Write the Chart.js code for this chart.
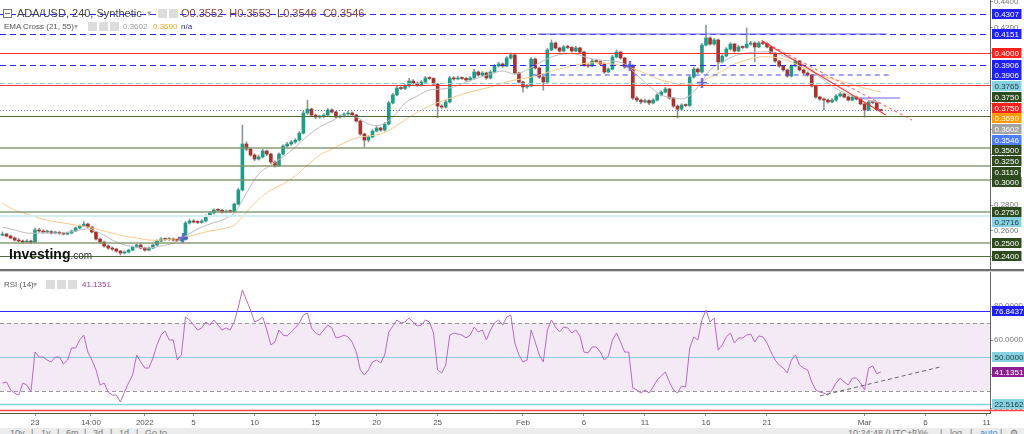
<!DOCTYPE html>
<html>
<head>
<meta charset="utf-8">
<script src="https://cdn.jsdelivr.net/npm/chart.js@4.4.1/dist/chart.umd.min.js"></script>
<style>
html, body { margin: 0; padding: 0; background: #fff; width: 1024px; height: 434px; overflow: hidden; font-family: "Liberation Sans", Arial, sans-serif; }
#wrap { position: relative; width: 1024px; height: 434px; }
canvas { position: absolute; left: 0; }
#price { top: 0; }
#rsi { top: 272px; }
.sep { position: absolute; left: 0; top: 269px; width: 1024px; height: 2px; background: #707070; }
.sep2 { position: absolute; left: 0; top: 271px; width: 1024px; height: 1px; background: #d4d4d4; }
.t { position: absolute; white-space: nowrap; }
.ico { position: absolute; width: 9px; height: 9px; background: #dcdcdc; }
.box { position: absolute; width: 7px; height: 7px; border: 1px solid #777; background: #fff; }
.box:after { content: ''; position: absolute; left: 1px; top: 3px; width: 5px; height: 1px; background: #777; }
#tools { position: absolute; left: 0; top: 428px; width: 1024px; height: 6px; background: #ececec; overflow: hidden; font-size: 9px; color: #777; }
#tools span { position: absolute; top: 1px; line-height: 9px; }
</style>
</head>
<body>
<div id="wrap">
  <canvas id="price" width="1024" height="269"></canvas>
  <div class="sep"></div><div class="sep2"></div>
  <canvas id="rsi" width="1024" height="162"></canvas>

  <div class="box" style="left:3px;top:9px"></div>
  <div class="t" style="left:17px;top:7px;font-size:11px;line-height:12px;color:#444">ADA/USD, 240, Synthetic</div>
  <div class="t" style="left:147px;top:8px;font-size:9px;line-height:10px;color:#aaa">▾</div>
  <div class="ico" style="left:158px;top:9px"></div><div class="ico" style="left:169px;top:9px"></div>
  <div class="t" id="ohlc" style="left:181px;top:7px;font-size:11px;line-height:12px;color:#8a3b3b"></div>

  <div class="t" style="left:4px;top:22px;font-size:8px;line-height:10px;color:#555">EMA Cross (21, 55)</div>
  <div class="t" style="left:74px;top:22px;font-size:8px;line-height:10px;color:#aaa">▾</div>
  <div class="ico" style="left:88px;top:22px"></div><div class="ico" style="left:99px;top:22px"></div><div class="ico" style="left:110px;top:22px"></div>
  <div class="t" id="emaFast" style="left:123px;top:22px;font-size:8px;line-height:10px;color:#999"></div>
  <div class="t" id="emaSlow" style="left:153px;top:22px;font-size:8px;line-height:10px;color:#f5a11c"></div>
  <div class="t" style="left:181px;top:22px;font-size:8px;line-height:10px;color:#2b2b8f">n/a</div>

  <div class="t" style="left:9px;top:247px;line-height:14px;color:#111"><span style="font-size:14px;font-weight:bold">Investing</span><span style="font-size:10px;color:#333">.com</span></div>

  <div class="t" style="left:4px;top:280px;font-size:8px;line-height:10px;color:#555">RSI (14)</div>
  <div class="t" style="left:33px;top:280px;font-size:8px;line-height:10px;color:#aaa">▾</div>
  <div class="ico" style="left:46px;top:280px"></div><div class="ico" style="left:57px;top:280px"></div><div class="ico" style="left:68px;top:280px"></div>
  <div class="t" id="rsiVal" style="left:82px;top:280px;font-size:8px;line-height:10px;color:#a03ca0"></div>

  <div id="tools">
    <span style="left:10px">10y</span><span style="left:31px">|</span><span style="left:41px">1y</span><span style="left:57px">|</span>
    <span style="left:66px">6m</span><span style="left:84px">|</span><span style="left:93px">3d</span><span style="left:110px">|</span>
    <span style="left:119px">1d</span><span style="left:136px">|</span><span style="left:145px">Go to...</span>
    <span style="left:848px">10:24:48 (UTC+2)</span><span style="left:912px">|</span><span style="left:920px">%</span><span style="left:940px">|</span>
    <span style="left:950px">log</span><span style="left:970px">|</span><span style="left:980px;color:#3d8bd0">auto</span><span style="left:1000px">|</span><span style="left:1010px">⚙</span>
  </div>
</div>

<script>
// ADA/USD 240 - candles resampled to 8h, days counted from 20 Dec 00:00
const firstDay = 1 / 3;
const candleStep = 1 / 3;
const emaStep = 1;
const firstOpen = 0.2565;

const closes = [
  0.2573, 0.2557, 0.2542, 0.2526, 0.2518, 0.2510, 0.2518, 0.2510, 0.2605, 0.2597, 0.2589, 0.2592,
  0.2581, 0.2584, 0.2579, 0.2573, 0.2581, 0.2597, 0.2620, 0.2636, 0.2652, 0.2628, 0.2589, 0.2534,
  0.2510, 0.2479, 0.2463, 0.2455, 0.2439, 0.2424, 0.2431, 0.2447, 0.2471, 0.2487, 0.2463, 0.2447,
  0.2463, 0.2487, 0.2518, 0.2534, 0.2530, 0.2536, 0.2526, 0.2522, 0.2530, 0.2660, 0.2676, 0.2668,
  0.2665, 0.2676, 0.2715, 0.2739, 0.2762, 0.2760, 0.2746, 0.2754, 0.2750, 0.2809, 0.2920, 0.3282,
  0.3242, 0.3195, 0.3164, 0.3180, 0.3227, 0.3203, 0.3140, 0.3109, 0.3203, 0.3266, 0.3282, 0.3298,
  0.3313, 0.3368, 0.3526, 0.3557, 0.3510, 0.3494, 0.3497, 0.3510, 0.3550, 0.3534, 0.3494, 0.3502,
  0.3518, 0.3526, 0.3510, 0.3463, 0.3361, 0.3313, 0.3337, 0.3384, 0.3408, 0.3392, 0.3439, 0.3605,
  0.3668, 0.3723, 0.3719, 0.3739, 0.3778, 0.3762, 0.3746, 0.3770, 0.3802, 0.3798, 0.3754, 0.3581,
  0.3573, 0.3613, 0.3802, 0.3794, 0.3802, 0.3798, 0.3786, 0.3802, 0.3849, 0.3825, 0.3841, 0.3802,
  0.3849, 0.3896, 0.3912, 0.3896, 0.3959, 0.3983, 0.3841, 0.3770, 0.3731, 0.3739, 0.3951, 0.3880,
  0.3809, 0.3770, 0.4022, 0.4077, 0.4038, 0.4014, 0.4046, 0.4042, 0.4014, 0.4038, 0.4006, 0.3904,
  0.3896, 0.3935, 0.3931, 0.3912, 0.3849, 0.3872, 0.3967, 0.4006, 0.3959, 0.3888, 0.3896, 0.3644,
  0.3628, 0.3613, 0.3624, 0.3605, 0.3628, 0.3668, 0.3691, 0.3715, 0.3644, 0.3581, 0.3557, 0.3589,
  0.3585, 0.3809, 0.3872, 0.3849, 0.4061, 0.4117, 0.4069, 0.4101, 0.3928, 0.3975, 0.4030, 0.4069,
  0.4014, 0.4046, 0.4042, 0.4069, 0.4077, 0.4046, 0.4077, 0.4073, 0.4046, 0.3998, 0.3935, 0.3896,
  0.3865, 0.3817, 0.3896, 0.3935, 0.3865, 0.3841, 0.3825, 0.3739, 0.3652, 0.3636, 0.3628, 0.3613,
  0.3628, 0.3660, 0.3676, 0.3652, 0.3628, 0.3652, 0.3636, 0.3597, 0.3550, 0.3613, 0.3609, 0.3552,
  0.3546
];

const highs = [
  0.2590, 0.2580, 0.2566, 0.2550, 0.2538, 0.2527, 0.2530, 0.2525, 0.2620, 0.2618, 0.2606, 0.2603,
  0.2600, 0.2596, 0.2594, 0.2588, 0.2590, 0.2605, 0.2630, 0.2645, 0.2672, 0.2660, 0.2635, 0.2595,
  0.2542, 0.2518, 0.2488, 0.2472, 0.2462, 0.2445, 0.2440, 0.2455, 0.2480, 0.2498, 0.2494, 0.2470,
  0.2472, 0.2495, 0.2528, 0.2545, 0.2544, 0.2546, 0.2542, 0.2534, 0.2538, 0.2672, 0.2690, 0.2688,
  0.2678, 0.2686, 0.2725, 0.2750, 0.2772, 0.2774, 0.2768, 0.2764, 0.2762, 0.2818, 0.2935, 0.3432,
  0.3300, 0.3250, 0.3205, 0.3195, 0.3240, 0.3235, 0.3210, 0.3150, 0.3212, 0.3275, 0.3295, 0.3310,
  0.3325, 0.3380, 0.3540, 0.3628, 0.3565, 0.3518, 0.3508, 0.3520, 0.3562, 0.3560, 0.3540, 0.3512,
  0.3528, 0.3540, 0.3535, 0.3518, 0.3470, 0.3368, 0.3348, 0.3395, 0.3420, 0.3415, 0.3450, 0.3618,
  0.3680, 0.3740, 0.3735, 0.3752, 0.3800, 0.3790, 0.3770, 0.3782, 0.3815, 0.3812, 0.3805, 0.3760,
  0.3592, 0.3625, 0.3815, 0.3812, 0.3815, 0.3810, 0.3806, 0.3812, 0.3870, 0.3858, 0.3852, 0.3848,
  0.3860, 0.3908, 0.3925, 0.3920, 0.3970, 0.3998, 0.3990, 0.3848, 0.3778, 0.3750, 0.3962, 0.3958,
  0.3888, 0.3815, 0.4035, 0.4101, 0.4085, 0.4045, 0.4058, 0.4060, 0.4050, 0.4050, 0.4045, 0.4012,
  0.3915, 0.3948, 0.3945, 0.3938, 0.3918, 0.3882, 0.3980, 0.4022, 0.4012, 0.3965, 0.3910, 0.3905,
  0.3655, 0.3636, 0.3635, 0.3632, 0.3640, 0.3680, 0.3702, 0.3728, 0.3722, 0.3650, 0.3590, 0.3600,
  0.3598, 0.3820, 0.3885, 0.3880, 0.4075, 0.4219, 0.4125, 0.4112, 0.4108, 0.3985, 0.4042, 0.4080,
  0.4075, 0.4058, 0.4055, 0.4195, 0.4090, 0.4085, 0.4088, 0.4092, 0.4080, 0.4052, 0.4005, 0.3942,
  0.3902, 0.3872, 0.3905, 0.3945, 0.3940, 0.3872, 0.3850, 0.3830, 0.3745, 0.3660, 0.3645, 0.3636,
  0.3640, 0.3672, 0.3688, 0.3684, 0.3660, 0.3665, 0.3660, 0.3642, 0.3605, 0.3625, 0.3620, 0.3615,
  0.3553
];

const lows = [
  0.2558, 0.2549, 0.2535, 0.2517, 0.2509, 0.2500, 0.2503, 0.2498, 0.2506, 0.2588, 0.2580, 0.2581,
  0.2572, 0.2574, 0.2570, 0.2565, 0.2567, 0.2576, 0.2592, 0.2614, 0.2630, 0.2620, 0.2582, 0.2525,
  0.2500, 0.2470, 0.2452, 0.2445, 0.2430, 0.2408, 0.2415, 0.2425, 0.2442, 0.2465, 0.2455, 0.2438,
  0.2440, 0.2458, 0.2480, 0.2512, 0.2522, 0.2523, 0.2518, 0.2514, 0.2513, 0.2525, 0.2652, 0.2660,
  0.2655, 0.2658, 0.2670, 0.2708, 0.2732, 0.2750, 0.2738, 0.2740, 0.2741, 0.2745, 0.2802, 0.2912,
  0.3230, 0.3185, 0.3150, 0.3155, 0.3172, 0.3190, 0.3128, 0.3100, 0.3104, 0.3195, 0.3255, 0.3270,
  0.3288, 0.3305, 0.3360, 0.3515, 0.3500, 0.3480, 0.3485, 0.3488, 0.3502, 0.3525, 0.3485, 0.3486,
  0.3494, 0.3510, 0.3500, 0.3455, 0.3350, 0.3258, 0.3300, 0.3330, 0.3376, 0.3382, 0.3385, 0.3432,
  0.3598, 0.3660, 0.3708, 0.3710, 0.3730, 0.3752, 0.3735, 0.3738, 0.3762, 0.3788, 0.3745, 0.3490,
  0.3560, 0.3565, 0.3605, 0.3785, 0.3786, 0.3788, 0.3776, 0.3778, 0.3795, 0.3815, 0.3818, 0.3790,
  0.3795, 0.3842, 0.3888, 0.3885, 0.3890, 0.3950, 0.3832, 0.3760, 0.3690, 0.3720, 0.3732, 0.3872,
  0.3800, 0.3705, 0.3765, 0.4015, 0.4028, 0.4005, 0.4008, 0.4032, 0.4005, 0.4008, 0.3995, 0.3895,
  0.3885, 0.3890, 0.3922, 0.3902, 0.3838, 0.3842, 0.3865, 0.3960, 0.3950, 0.3878, 0.3880, 0.3632,
  0.3615, 0.3598, 0.3605, 0.3592, 0.3598, 0.3620, 0.3660, 0.3685, 0.3635, 0.3570, 0.3487, 0.3548,
  0.3575, 0.3578, 0.3800, 0.3838, 0.3842, 0.4055, 0.4058, 0.4060, 0.3865, 0.3920, 0.3968, 0.4022,
  0.4005, 0.4008, 0.4033, 0.4035, 0.4060, 0.3928, 0.4040, 0.4065, 0.4038, 0.3990, 0.3925, 0.3885,
  0.3855, 0.3808, 0.3810, 0.3888, 0.3856, 0.3832, 0.3815, 0.3730, 0.3642, 0.3625, 0.3550, 0.3604,
  0.3606, 0.3620, 0.3652, 0.3645, 0.3620, 0.3622, 0.3628, 0.3590, 0.3494, 0.3545, 0.3600, 0.3548,
  0.3546
];

// RSI(14), one value per candle
const rsi = [
  34.7, 35.3, 30.6, 28.8, 27.6, 34.7, 33.5, 29.4, 52.9, 50.0, 50.0, 48.2,
  47.1, 50.0, 50.0, 45.9, 48.2, 55.3, 55.3, 60.0, 62.9, 52.9, 48.2, 42.4,
  33.5, 34.7, 29.4, 27.6, 27.6, 23.5, 29.4, 34.7, 39.4, 51.2, 47.1, 43.5,
  43.5, 49.4, 57.1, 62.9, 65.3, 60.0, 60.0, 48.2, 51.2, 73.5, 71.8, 68.8,
  65.9, 67.1, 70.6, 68.8, 71.8, 68.8, 65.9, 67.1, 65.9, 70.6, 79.4, 89.4,
  83.5, 77.6, 70.6, 71.8, 73.5, 65.9, 57.1, 58.8, 65.9, 62.9, 62.4, 64.7,
  67.1, 70.0, 74.7, 75.9, 67.1, 64.1, 62.9, 65.9, 68.8, 67.1, 61.2, 61.8,
  62.9, 61.8, 58.8, 52.9, 42.4, 39.4, 42.4, 47.1, 48.2, 46.5, 51.2, 64.7,
  68.2, 71.8, 70.0, 70.6, 72.9, 70.6, 68.2, 68.8, 71.8, 70.6, 64.1, 42.4,
  40.6, 45.3, 62.9, 64.1, 63.5, 62.9, 61.2, 62.9, 67.6, 64.7, 65.9, 60.0,
  65.9, 70.0, 71.8, 68.8, 73.5, 74.7, 58.2, 51.2, 47.1, 48.2, 65.9, 58.8,
  51.2, 47.1, 65.9, 71.8, 67.6, 64.7, 67.6, 67.1, 64.1, 65.9, 62.4, 52.9,
  52.4, 55.9, 55.9, 52.9, 48.2, 50.6, 60.0, 64.1, 58.8, 52.9, 52.9, 31.8,
  30.6, 28.8, 30.6, 28.8, 32.4, 36.5, 38.8, 41.2, 35.3, 30.6, 28.8, 32.9,
  32.4, 55.3, 61.8, 60.0, 71.8, 77.6, 70.6, 72.9, 54.1, 57.1, 61.8, 64.1,
  58.2, 61.2, 61.2, 62.9, 63.5, 58.8, 62.4, 61.8, 58.2, 52.9, 48.2, 45.3,
  43.5, 40.6, 48.2, 51.2, 45.3, 43.5, 42.4, 35.3, 30.6, 29.4, 28.8, 27.6,
  30.6, 34.7, 37.6, 35.3, 33.5, 37.6, 37.6, 34.7, 30.6, 43.5, 44.7, 40.2,
  41.1351
];

// EMA cross (21, 55), one value per day
const ema21 = [
  0.2628, 0.2605, 0.2581, 0.2581, 0.2581, 0.2581, 0.2597, 0.2613, 0.2581, 0.2526, 0.2487, 0.2471,
  0.2463, 0.2479, 0.2502, 0.2557, 0.2613, 0.2652, 0.2683, 0.2739, 0.2896, 0.3046, 0.3116, 0.3180,
  0.3258, 0.3345, 0.3416, 0.3463, 0.3510, 0.3494, 0.3439, 0.3431, 0.3494, 0.3605, 0.3660, 0.3707,
  0.3715, 0.3731, 0.3770, 0.3802, 0.3833, 0.3857, 0.3833, 0.3865, 0.3920, 0.3967, 0.3991, 0.3991,
  0.3959, 0.3943, 0.3935, 0.3912, 0.3825, 0.3739, 0.3668, 0.3644, 0.3644, 0.3731, 0.3865, 0.3928,
  0.3975, 0.3998, 0.4006, 0.4006, 0.3975, 0.3935, 0.3888, 0.3809, 0.3739, 0.3683, 0.3652, 0.3628,
  0.3602
];
const ema55 = [
  0.2817, 0.2762, 0.2731, 0.2699, 0.2676, 0.2660, 0.2644, 0.2628, 0.2605, 0.2581, 0.2557, 0.2542,
  0.2526, 0.2526, 0.2534, 0.2550, 0.2573, 0.2597, 0.2613, 0.2644, 0.2746, 0.2849, 0.2920, 0.2967,
  0.3030, 0.3116, 0.3195, 0.3242, 0.3290, 0.3329, 0.3345, 0.3361, 0.3408, 0.3471, 0.3534, 0.3581,
  0.3620, 0.3652, 0.3683, 0.3707, 0.3731, 0.3762, 0.3786, 0.3802, 0.3825, 0.3857, 0.3880, 0.3904,
  0.3920, 0.3920, 0.3912, 0.3896, 0.3865, 0.3825, 0.3786, 0.3762, 0.3746, 0.3762, 0.3809, 0.3857,
  0.3912, 0.3943, 0.3967, 0.3967, 0.3951, 0.3912, 0.3865, 0.3825, 0.3794, 0.3770, 0.3739, 0.3715,
  0.3690
];

// x axis
const xTickDays = [3, 7.583, 12, 16, 21, 26, 31, 36, 43, 48, 53, 58, 63, 71, 76, 81];
const xTickLabels = ['23', '14:00', '2022', '5', '10', '15', '20', '25', 'Feb', '6', '11', '16', '21', 'Mar', '6', '11'];
const viewFrom = 0.131;
const viewTo = 81.28;

// price axis
const priceTicks = [0.24, 0.26, 0.28, 0.30, 0.32, 0.34, 0.36, 0.38, 0.40, 0.42, 0.44];
const priceMin = 0.2298;
const priceMax = 0.44157;
const rsiTicks = [20, 40, 60, 80];
const rsiMin = 17.06;
const rsiMax = 100;

// drawn levels
const blueDashLevels = [0.4307, 0.4151, 0.3906];
const redLevels = [0.4000, 0.3750];
const cyanDashLevels = [0.3765];
const darkGreenLevels = [0.3750, 0.3500, 0.2400];
const paleGreenLevels = [0.3250, 0.3110, 0.3000, 0.2750, 0.2500];
const cyanLevels = [0.2716];
// [fromDay, toDay, price]
const boxSegments = [[44.2, 72.8, 0.4151], [70.6, 73.9, 0.3646]];
const dashSegments = [[43.8, 73.3, 0.3825]];
// [day1, price1, day2, price2]
const solidTrend = [62.57, 0.4095, 72.75, 0.3510];
const dashTrend = [62.57, 0.4095, 74.89, 0.3471];
const emaCrosses = [[15.13, 0.2542], [51.77, 0.3896], [57.67, 0.3762]];

// axis price labels, top to bottom
const axisLabelValues = [0.4307, 0.4151, 0.4000, 0.3906, 0.3906, 0.3765, 0.3750, 0.3750, 0.3500, 0.3250, 0.3110, 0.3000, 0.2750, 0.2716, 0.2500, 0.2400];
const axisLabelKinds = ['blue', 'blue', 'red', 'blue', 'blue', 'cyan', 'green', 'red', 'green', 'green', 'green', 'green', 'green', 'cyan', 'green', 'green'];

// RSI pane
const rsiBandTop = 70;
const rsiBandBottom = 30;
const rsiBlueLevel = 76.8437;
const rsiMidLevel = 50;
const rsiLowLevel = 22.5162;
const rsiRedLevel = 18.8;
const rsiTrend = [67.34, 27.1, 77.18, 44.1];

const family = '"Liberation Sans", Arial, sans-serif';
Chart.defaults.font.family = family;

const upColor = '#1f9c88';
const downColor = '#a8322d';
const kindStyle = {
  blue: ['#1f1fff', '#fff'],
  red: ['#ff1f1f', '#fff'],
  cyan: ['#86d2e2', '#1e3a40'],
  green: ['#2e4b1f', '#fff'],
  orange: ['#ff9a00', '#fff'],
  grey: ['#a3a3a3', '#fff'],
  last: ['#4f7dff', '#fff'],
  purple: ['#8e1f8e', '#fff']
};

const opens = [firstOpen].concat(closes.slice(0, -1));
const dayOf = (i) => firstDay + i * candleStep;
const bodies = closes.map((c, i) => ({ x: dayOf(i), y: [opens[i], c] }));
const wicks = closes.map((c, i) => ({ x: dayOf(i), y: [lows[i], highs[i]] }));
const bodyColors = closes.map((c, i) => (c >= opens[i] ? upColor : downColor));
const last = closes.length - 1;

document.getElementById('ohlc').textContent =
  'O' + opens[last].toFixed(4) + '\u00a0 H' + highs[last].toFixed(4) + '\u00a0 L' + lows[last].toFixed(4) + '\u00a0 C' + closes[last].toFixed(4);
document.getElementById('emaFast').textContent = ema21[ema21.length - 1].toFixed(4);
document.getElementById('emaSlow').textContent = ema55[ema55.length - 1].toFixed(4);
document.getElementById('rsiVal').textContent = rsi[rsi.length - 1].toFixed(4);

function strokeLine(ctx, x1, y1, x2, y2, color, width, dash) {
  ctx.beginPath();
  ctx.strokeStyle = color;
  ctx.lineWidth = width;
  ctx.setLineDash(dash || []);
  ctx.moveTo(x1, y1);
  ctx.lineTo(x2, y2);
  ctx.stroke();
}

function levelLine(chart, value, color, width, dash, from, to) {
  const { ctx, chartArea: a, scales: { x, y } } = chart;
  const py = Math.round(y.getPixelForValue(value)) + (width % 2 ? 0.5 : 0);
  const x1 = from == null ? a.left : x.getPixelForValue(from);
  const x2 = to == null ? a.right : x.getPixelForValue(to);
  strokeLine(ctx, x1, py, x2, py, color, width, dash);
}

function drawAxisLabels(chart, items) {
  const { ctx, chartArea: a, scales: { y } } = chart;
  ctx.save();
  ctx.font = '8px ' + family;
  ctx.textBaseline = 'middle';
  let prev = -Infinity;
  items.slice().sort((p, q) => q.value - p.value).forEach((it) => {
    const py = Math.max(y.getPixelForValue(it.value), prev + 10.7);
    prev = py;
    const text = it.value.toFixed(4);
    const w = ctx.measureText(text).width + 5;
    const st = kindStyle[it.kind];
    ctx.fillStyle = st[0];
    ctx.fillRect(a.right + 2, Math.round(py - 5), w, 10);
    ctx.fillStyle = st[1];
    ctx.fillText(text, a.right + 4.5, Math.round(py - 5) + 5.5);
  });
  ctx.restore();
}

const priceDrawings = {
  id: 'priceDrawings',
  afterDatasetsDraw(chart) {
    const { ctx, chartArea: a, scales: { x, y } } = chart;
    ctx.save();
    ctx.beginPath();
    ctx.rect(a.left, a.top, a.right - a.left, a.bottom - a.top);
    ctx.clip();
    paleGreenLevels.forEach((v) => levelLine(chart, v, 'rgba(128,148,108,0.7)', 2));
    cyanLevels.forEach((v) => levelLine(chart, v, '#d2eef3', 2));
    darkGreenLevels.forEach((v) => levelLine(chart, v, '#4d6e38', 1));
    cyanDashLevels.forEach((v) => levelLine(chart, v, '#86cfdf', 1, [5, 3]));
    redLevels.forEach((v) => levelLine(chart, v, '#ff3333', 1));
    blueDashLevels.forEach((v) => levelLine(chart, v, '#2b2bff', 1, [6, 4]));
    levelLine(chart, closes[last], 'rgba(60,90,255,0.8)', 1, [1, 2]);
    boxSegments.forEach((s) => levelLine(chart, s[2], 'rgba(100,100,255,0.5)', 2, null, s[0], s[1]));
    dashSegments.forEach((s) => levelLine(chart, s[2], 'rgba(90,90,240,0.55)', 2, [5, 4], s[0], s[1]));
    strokeLine(ctx, x.getPixelForValue(solidTrend[0]), y.getPixelForValue(solidTrend[1]),
      x.getPixelForValue(solidTrend[2]), y.getPixelForValue(solidTrend[3]), 'rgba(255,40,40,0.9)', 1.2);
    strokeLine(ctx, x.getPixelForValue(dashTrend[0]), y.getPixelForValue(dashTrend[1]),
      x.getPixelForValue(dashTrend[2]), y.getPixelForValue(dashTrend[3]), 'rgba(255,70,70,0.75)', 1.2, [3, 3]);
    ctx.restore();
  },
  afterDraw(chart) {
    const items = axisLabelValues.map((v, i) => ({ value: v, kind: axisLabelKinds[i] }));
    items.push({ value: ema55[ema55.length - 1], kind: 'orange' });
    items.push({ value: ema21[ema21.length - 1], kind: 'grey' });
    items.push({ value: closes[last], kind: 'last' });
    drawAxisLabels(chart, items);
  }
};

new Chart(document.getElementById('price'), {
  type: 'bar',
  data: {
    datasets: [
      { type: 'bar', data: wicks, backgroundColor: 'rgba(120,138,132,0.85)', barThickness: 1, grouped: false, borderWidth: 0, order: 5 },
      { type: 'bar', data: bodies, backgroundColor: bodyColors, barThickness: 3, grouped: false, borderWidth: 0, minBarLength: 1, order: 4 },
      { type: 'line', data: ema21.map((v, k) => ({ x: firstDay + k * emaStep, y: v })), borderColor: '#bdbdbd', borderWidth: 1, pointRadius: 0, tension: 0.35, order: 2 },
      { type: 'line', data: ema55.map((v, k) => ({ x: firstDay + k * emaStep, y: v })), borderColor: '#fcc88a', borderWidth: 1, pointRadius: 0, tension: 0.35, order: 2 },
      { type: 'line', data: emaCrosses.map((p) => ({ x: p[0], y: p[1] })), showLine: false, pointStyle: 'cross', pointRadius: 5, pointBorderWidth: 2.5, pointBorderColor: 'rgba(80,80,215,0.8)', order: 0 }
    ]
  },
  options: {
    responsive: false,
    animation: false,
    events: [],
    layout: { padding: 0, autoPadding: false },
    plugins: { legend: { display: false }, tooltip: { enabled: false } },
    scales: {
      x: { type: 'linear', min: viewFrom, max: viewTo, offset: false, display: false, bounds: 'data' },
      y: {
        position: 'right', min: priceMin, max: priceMax, bounds: 'data', beginAtZero: false,
        afterFit: (s) => { s.width = 34; s.paddingTop = 0; s.paddingBottom = 0; },
        afterBuildTicks: (s) => { s.ticks = priceTicks.map((v) => ({ value: v })); },
        ticks: { callback: (v) => Number(v).toFixed(4), font: { size: 8 }, color: '#777', padding: 1, autoSkip: false },
        grid: { drawOnChartArea: false, tickLength: 3, color: '#999' },
        border: { color: '#666' }
      }
    }
  },
  plugins: [priceDrawings]
});

const rsiDrawings = {
  id: 'rsiDrawings',
  beforeDatasetsDraw(chart) {
    const { ctx, chartArea: a, scales: { y } } = chart;
    ctx.save();
    const top = y.getPixelForValue(rsiBandTop);
    const bottom = y.getPixelForValue(rsiBandBottom);
    ctx.fillStyle = 'rgba(165,95,180,0.13)';
    ctx.fillRect(a.left, top, a.right - a.left, bottom - top);
    levelLine(chart, rsiBandTop, '#9a9a9a', 1, [4, 3]);
    levelLine(chart, rsiBandBottom, '#9a9a9a', 1, [4, 3]);
    levelLine(chart, rsiBlueLevel, '#2a2aff', 1);
    levelLine(chart, rsiMidLevel, '#8ccde0', 1);
    levelLine(chart, rsiLowLevel, '#7fd3e3', 1.5);
    ctx.restore();
  },
  afterDatasetsDraw(chart) {
    const { ctx, scales: { x, y } } = chart;
    ctx.save();
    strokeLine(ctx, x.getPixelForValue(rsiTrend[0]), y.getPixelForValue(rsiTrend[1]),
      x.getPixelForValue(rsiTrend[2]), y.getPixelForValue(rsiTrend[3]), '#666', 1, [4, 3]);
    ctx.restore();
  },
  afterDraw(chart) {
    const { ctx, scales: { y } } = chart;
    ctx.save();
    const py = Math.round(y.getPixelForValue(rsiRedLevel)) + 0.5;
    strokeLine(ctx, 0, py, chart.width, py, '#ff4444', 1.5);
    ctx.restore();
    drawAxisLabels(chart, [
      { value: rsiBlueLevel, kind: 'blue' },
      { value: rsiMidLevel, kind: 'cyan' },
      { value: rsi[rsi.length - 1], kind: 'purple' },
      { value: rsiLowLevel, kind: 'cyan' }
    ]);
  }
};

new Chart(document.getElementById('rsi'), {
  type: 'line',
  data: {
    datasets: [
      { data: rsi.map((v, i) => ({ x: dayOf(i), y: v })), borderColor: '#b86ac4', borderWidth: 1, pointRadius: 0, tension: 0 }
    ]
  },
  options: {
    responsive: false,
    animation: false,
    events: [],
    layout: { padding: 0, autoPadding: false },
    plugins: { legend: { display: false }, tooltip: { enabled: false } },
    scales: {
      x: {
        type: 'linear', min: viewFrom, max: viewTo, offset: false, bounds: 'data',
        afterFit: (s) => { s.height = 21; s.paddingLeft = 0; s.paddingRight = 0; },
        afterBuildTicks: (s) => { s.ticks = xTickDays.map((v) => ({ value: v })); },
        ticks: { callback: (v, i) => xTickLabels[i], font: { size: 8 }, color: '#555', padding: 2, maxRotation: 0, autoSkip: false },
        grid: { drawOnChartArea: false, tickLength: 3, color: '#888' },
        border: { color: '#555' }
      },
      y: {
        position: 'right', min: rsiMin, max: rsiMax, bounds: 'data',
        afterFit: (s) => { s.width = 34; s.paddingTop = 0; s.paddingBottom = 0; },
        afterBuildTicks: (s) => { s.ticks = rsiTicks.map((v) => ({ value: v })); },
        ticks: { callback: (v) => Number(v).toFixed(4), font: { size: 8 }, color: '#777', padding: 1, autoSkip: false },
        grid: { drawOnChartArea: false, tickLength: 3, color: '#999' },
        border: { color: '#666' }
      }
    }
  },
  plugins: [rsiDrawings]
});
</script>
</body>
</html>
